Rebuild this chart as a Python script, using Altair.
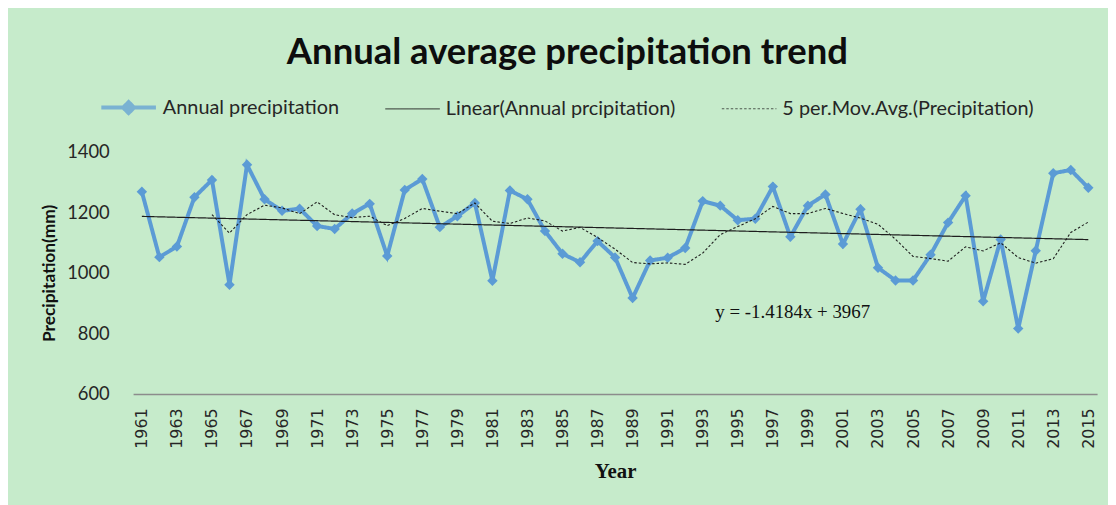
import altair as alt
import pandas as pd

years = list(range(1961, 2016))
precip = [1268, 1052, 1087, 1250, 1307, 961, 1357, 1243, 1205, 1212,
          1155, 1145, 1196, 1228, 1056, 1274, 1310, 1151, 1187, 1231,
          974, 1272, 1243, 1138, 1063, 1035, 1105, 1051, 917, 1041,
          1050, 1082, 1237, 1222, 1174, 1179, 1285, 1119, 1222, 1259,
          1095, 1210, 1017, 975, 975, 1060, 1166, 1255, 906, 1110,
          816, 1073, 1329, 1340, 1281]
series_names = ["Annual precipitation", "Linear(Annual prcipitation)",
                "5 per.Mov.Avg.(Precipitation)"]
x_tick_years = list(range(1961, 2016, 2))
y_ticks = [600, 800, 1000, 1200, 1400]
equation_text = ["y = -1.4184x + 3967"]
equation_year = [1994]
equation_value = [872]

df = pd.DataFrame({"year": years, "value": precip})
eq_df = pd.DataFrame({"year": equation_year, "value": equation_value,
                      "label": equation_text})

BLUE = "#5B9BD5"
DARK = "#1e1e1e"

x_enc = alt.X("year:O",
              scale=alt.Scale(type="point", domain=years, padding=0.5),
              axis=alt.Axis(values=x_tick_years, labelAngle=270,
                            labelAlign="right", labelBaseline="middle",
                            ticks=False, grid=False, domainColor="#8c8c8c",
                            domainWidth=1.3,
                            labelPadding=14, labelFont="DejaVu Sans",
                            labelFontSize=16, labelColor="#262626",
                            labelOverlap=False, labelFlush=False, labelBound=False,
                            title="Year", titleFont="Liberation Serif",
                            titleFontWeight="bold", titleFontSize=21,
                            titleColor="#111", titlePadding=12))
y_scale = alt.Scale(domain=[600, 1400], nice=False, zero=False)
y_axis = alt.Axis(values=y_ticks, format="d", grid=False, ticks=False, domain=False,
                  labelFont="Lato", labelFontSize=18.5, labelColor="#262626",
                  labelPadding=24, title="Precipitation(mm)", titleFont="Lato",
                  titleFontWeight="bold", titleFontSize=17.5, titleColor="#111",
                  titlePadding=8)

color_enc = alt.Color("series:N",
                      scale=alt.Scale(domain=series_names, range=[BLUE, DARK, DARK]),
                      legend=alt.Legend(title=None, orient="none", direction="horizontal",
                                        legendX=-34, legendY=-74,
                                        labelFont="Lato", labelFontSize=20,
                                        labelColor="#262626", columnPadding=43,
                                        symbolSize=3025, labelOffset=5,
                                        labelLimit=0, symbolFillColor=BLUE))
dash_enc = alt.StrokeDash("series:N",
                          scale=alt.Scale(domain=series_names,
                                          range=[[1, 0], [1, 0], [2.5, 2]]),
                          legend=alt.Legend(title=None))
width_enc = alt.StrokeWidth("series:N",
                            scale=alt.Scale(type="ordinal", domain=series_names,
                                            range=[4, 1.2, 1.1]),
                            legend=alt.Legend(title=None))

base = alt.Chart(df)

annual_line = base.transform_calculate(series="'" + series_names[0] + "'").mark_line().encode(
    x=x_enc, y=alt.Y("value:Q", scale=y_scale, axis=y_axis),
    color=color_enc, strokeDash=dash_enc, strokeWidth=width_enc)

annual_pts = base.mark_point(shape="diamond", filled=True, size=110, opacity=1,
                             color=BLUE).encode(x="year:O", y="value:Q")

trend = base.transform_regression("year", "value").transform_calculate(
    series="'" + series_names[1] + "'").mark_line().encode(
    x="year:O", y="value:Q", color=color_enc, strokeDash=dash_enc, strokeWidth=width_enc)

mavg = base.transform_window(ma="mean(value)", frame=[-4, 0], sort=[{"field": "year"}]) \
    .transform_filter("datum.year >= 1965") \
    .transform_calculate(series="'" + series_names[2] + "'", value="datum.ma") \
    .mark_line().encode(x="year:O", y="value:Q", color=color_enc,
                        strokeDash=dash_enc, strokeWidth=width_enc)

legend_shapes = base.transform_filter("false").transform_calculate(
    series="'" + series_names[0] + "'").mark_point(filled=True).encode(
    x="year:O", y="value:Q",
    shape=alt.Shape("series:N",
                    scale=alt.Scale(domain=series_names,
                                    range=["M-1,0L1,0M0,-0.2L0.2,0L0,0.2L-0.2,0Z",
                                           "M-1,0L1,0", "M-1,0L1,0"]),
                    legend=alt.Legend(title=None)),
    color=color_enc)

eq = alt.Chart(eq_df).mark_text(align="left", baseline="middle", font="Liberation Serif",
                                fontSize=19, color="#111", dx=-5).encode(
    x="year:O", y="value:Q", text="label:N")

chart = alt.layer(annual_line, annual_pts, trend, mavg, legend_shapes, eq).properties(
    width=971, height=244,
    title=alt.TitleParams("Annual average precipitation trend", font="Lato",
                          fontSize=36.7, fontWeight="bold", color="#0d0d0d",
                          anchor="middle", dx=-48, offset=7),
    autosize=alt.AutoSizeParams(type="none"),
    padding={"left": 126, "top": 143, "right": 11, "bottom": 110},
).configure(background="#C6EBCB").configure_view(stroke=None).configure_axisX(
    labelOverlap=False)

chart.save("out.html", embed_options={"renderer": "svg", "actions": False})
